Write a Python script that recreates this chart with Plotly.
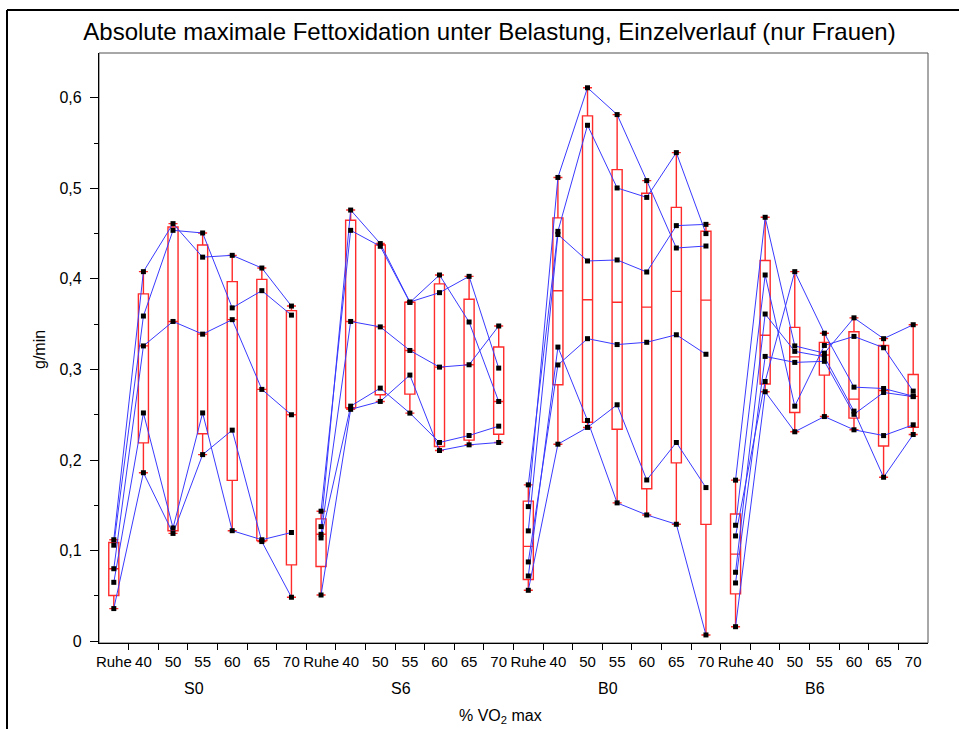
import math
import plotly.graph_objects as go

title = "Absolute maximale Fettoxidation unter Belastung, Einzelverlauf (nur Frauen)"
stages = ["Ruhe", "40", "50", "55", "60", "65", "70"]
groups = ["S0", "S6", "B0", "B6"]

# g/min per woman; columns follow `stages`
s0 = [
    [0.036, 0.186, 0.119, 0.206, 0.233, 0.110, 0.0485],
    [0.065, 0.252, 0.125, 0.252, 0.122, 0.112, 0.120],
    [0.080, 0.326, 0.353, 0.339, 0.355, 0.278, 0.250],
    [0.106, 0.359, 0.4536, 0.4507, 0.368, 0.387, 0.360],
    [0.112, 0.408, 0.461, 0.424, 0.426, 0.412, 0.370],
]
s6 = [
    [0.1265, 0.476, 0.439, 0.3745, 0.3848, 0.4028, 0.3015],
    [0.1435, 0.4536, 0.436, 0.374, 0.4043, 0.3524, 0.2647],
    [0.118, 0.353, 0.347, 0.321, 0.3026, 0.3052, 0.348],
    [0.114, 0.2595, 0.2794, 0.2518, 0.2194, 0.2271, 0.2374],
    [0.051, 0.256, 0.2647, 0.2938, 0.2105, 0.2168, 0.2194],
]
b0 = [
    [0.1486, 0.512, 0.611, 0.5814, 0.5085, 0.4341, 0.4363],
    [0.1726, 0.4525, 0.5696, 0.5004, 0.490, 0.5394, 0.450],
    [0.1218, 0.449, 0.4198, 0.4209, 0.4076, 0.4588, 0.4602],
    [0.0875, 0.305, 0.334, 0.3275, 0.330, 0.3383, 0.3168],
    [0.072, 0.3247, 0.2437, 0.1527, 0.1394, 0.1291, 0.0069],
    [0.0562, 0.2175, 0.236, 0.261, 0.178, 0.2194, 0.1696],
]
b6 = [
    [0.1162, 0.2867, 0.408, 0.340, 0.2805, 0.279, 0.2705],
    [0.128, 0.4043, 0.2595, 0.3265, 0.3365, 0.324, 0.2761],
    [0.1778, 0.468, 0.326, 0.318, 0.357, 0.334, 0.3494],
    [0.0761, 0.3612, 0.320, 0.314, 0.254, 0.181, 0.2282],
    [0.0643, 0.3144, 0.3078, 0.309, 0.2505, 0.2746, 0.270],
    [0.016, 0.2754, 0.2312, 0.248, 0.2334, 0.227, 0.2389],
]
group_data = [s0, s6, b0, b6]

LINE_BLUE = "#3a3aff"
BOX_RED = "#ff2a2a"
FONT = "Arial, Liberation Sans, sans-serif"

W, H = 959, 729
ML, MR, MT, MB = 99, 31, 53, 86


def quartile(values, p):
    """(n+1)p interpolated quantile."""
    s = sorted(values)
    n = len(s)
    pos = (n + 1) * p
    k = int(math.floor(pos))
    f = pos - k
    if k < 1:
        return s[0]
    if k >= n:
        return s[-1]
    return s[k - 1] + f * (s[k] - s[k - 1])


xpos, q1, med, q3, lo, hi = [], [], [], [], [], []
for gi, rows in enumerate(group_data):
    for si in range(len(stages)):
        col = [r[si] for r in rows]
        xpos.append(gi * len(stages) + si)
        q1.append(quartile(col, 0.25))
        med.append(quartile(col, 0.5))
        q3.append(quartile(col, 0.75))
        lo.append(min(col))
        hi.append(max(col))

fig = go.Figure()

fig.add_trace(go.Box(
    x=xpos, q1=q1, median=med, q3=q3, lowerfence=lo, upperfence=hi,
    width=0.34, whiskerwidth=0.9, boxpoints=False,
    line=dict(color=BOX_RED, width=1.4), fillcolor="rgba(0,0,0,0)",
    showlegend=False, hoverinfo="skip",
))

mx, my = [], []
for gi, rows in enumerate(group_data):
    xs = [gi * len(stages) + si for si in range(len(stages))]
    for r in rows:
        fig.add_trace(go.Scatter(
            x=xs, y=r, mode="lines",
            line=dict(color=LINE_BLUE, width=1),
            showlegend=False, hoverinfo="skip",
        ))
        mx.extend(xs)
        my.extend(r)

fig.add_trace(go.Scatter(
    x=mx, y=my, mode="markers",
    marker=dict(symbol="square", size=5, color="black"),
    showlegend=False,
))

n_cat = len(stages) * len(groups)
plot_w = W - ML - MR
plot_h = H - MT - MB


def px_to_paper_x(px):
    return (px - ML) / plot_w


def px_to_paper_y(py):
    return (H - MB - py) / plot_h


fig.update_xaxes(
    range=[-0.5, n_cat - 0.5],
    tickmode="array", tickvals=list(range(n_cat)), ticktext=stages * len(groups),
    ticks="", showline=True, linecolor="black", linewidth=1,
    showgrid=False, zeroline=False,
    tickfont=dict(family=FONT, size=15, color="black"),
    ticklabelstandoff=5,
    minor=dict(tickmode="array", tickvals=[k + 0.5 for k in range(n_cat - 1)],
               ticks="outside", ticklen=6, tickcolor="black", tickwidth=1,
               showgrid=False),
)
fig.update_yaxes(
    range=[-0.002, 0.6494],
    tickmode="array", tickvals=[0, 0.1, 0.2, 0.3, 0.4, 0.5, 0.6],
    ticktext=["0", "0,1", "0,2", "0,3", "0,4", "0,5", "0,6"],
    ticks="outside", ticklen=8, tickcolor="black", tickwidth=1,
    showline=True, linecolor="black", linewidth=1.3,
    showgrid=False, zeroline=False,
    tickfont=dict(family=FONT, size=16, color="black"),
    ticklabelstandoff=5,
    minor=dict(tickmode="array", tickvals=[0.05, 0.15, 0.25, 0.35, 0.45, 0.55],
               ticks="outside", ticklen=4, tickcolor="black", tickwidth=1,
               showgrid=False),
)

annotations = []
for gi, g in enumerate(groups):
    annotations.append(dict(
        x=gi * len(stages) + (len(stages) - 1) / 2, xref="x",
        y=px_to_paper_y(688), yref="paper", xshift=-9,
        text=g, showarrow=False, font=dict(family=FONT, size=16, color="black"),
        xanchor="center", yanchor="middle",
    ))
annotations.append(dict(
    x=px_to_paper_x(500), xref="paper", y=px_to_paper_y(716), yref="paper",
    text="% VO<sub>2</sub> max", showarrow=False,
    font=dict(family=FONT, size=16, color="black"),
    xanchor="center", yanchor="middle",
))
annotations.append(dict(
    x=px_to_paper_x(40), xref="paper", y=px_to_paper_y(350), yref="paper",
    text="g/min", textangle=-90, showarrow=False,
    font=dict(family=FONT, size=16, color="black"),
    xanchor="center", yanchor="middle",
))

shapes = [
    # plot frame
    dict(type="rect", xref="paper", yref="paper", x0=0, x1=1, y0=0, y1=1,
         line=dict(color="#505050", width=1), layer="below"),
    # outer border, left and top
    dict(type="line", xref="paper", yref="paper",
         x0=px_to_paper_x(7), x1=px_to_paper_x(7),
         y0=px_to_paper_y(10), y1=px_to_paper_y(H + 5),
         line=dict(color="black", width=2)),
    dict(type="line", xref="paper", yref="paper",
         x0=px_to_paper_x(7), x1=px_to_paper_x(W + 5),
         y0=px_to_paper_y(10), y1=px_to_paper_y(10),
         line=dict(color="black", width=2)),
]

fig.update_layout(
    width=W, height=H,
    margin=dict(l=ML, r=MR, t=MT, b=MB),
    paper_bgcolor="white", plot_bgcolor="white",
    separators=", ",
    title=dict(text=title, x=px_to_paper_x(489.5), xref="paper",
               y=1 - 32 / H, yref="container", xanchor="center", yanchor="middle",
               font=dict(family=FONT, size=24, color="black")),
    annotations=annotations, shapes=shapes,
    showlegend=False,
)

fig.write_html("out.html")
